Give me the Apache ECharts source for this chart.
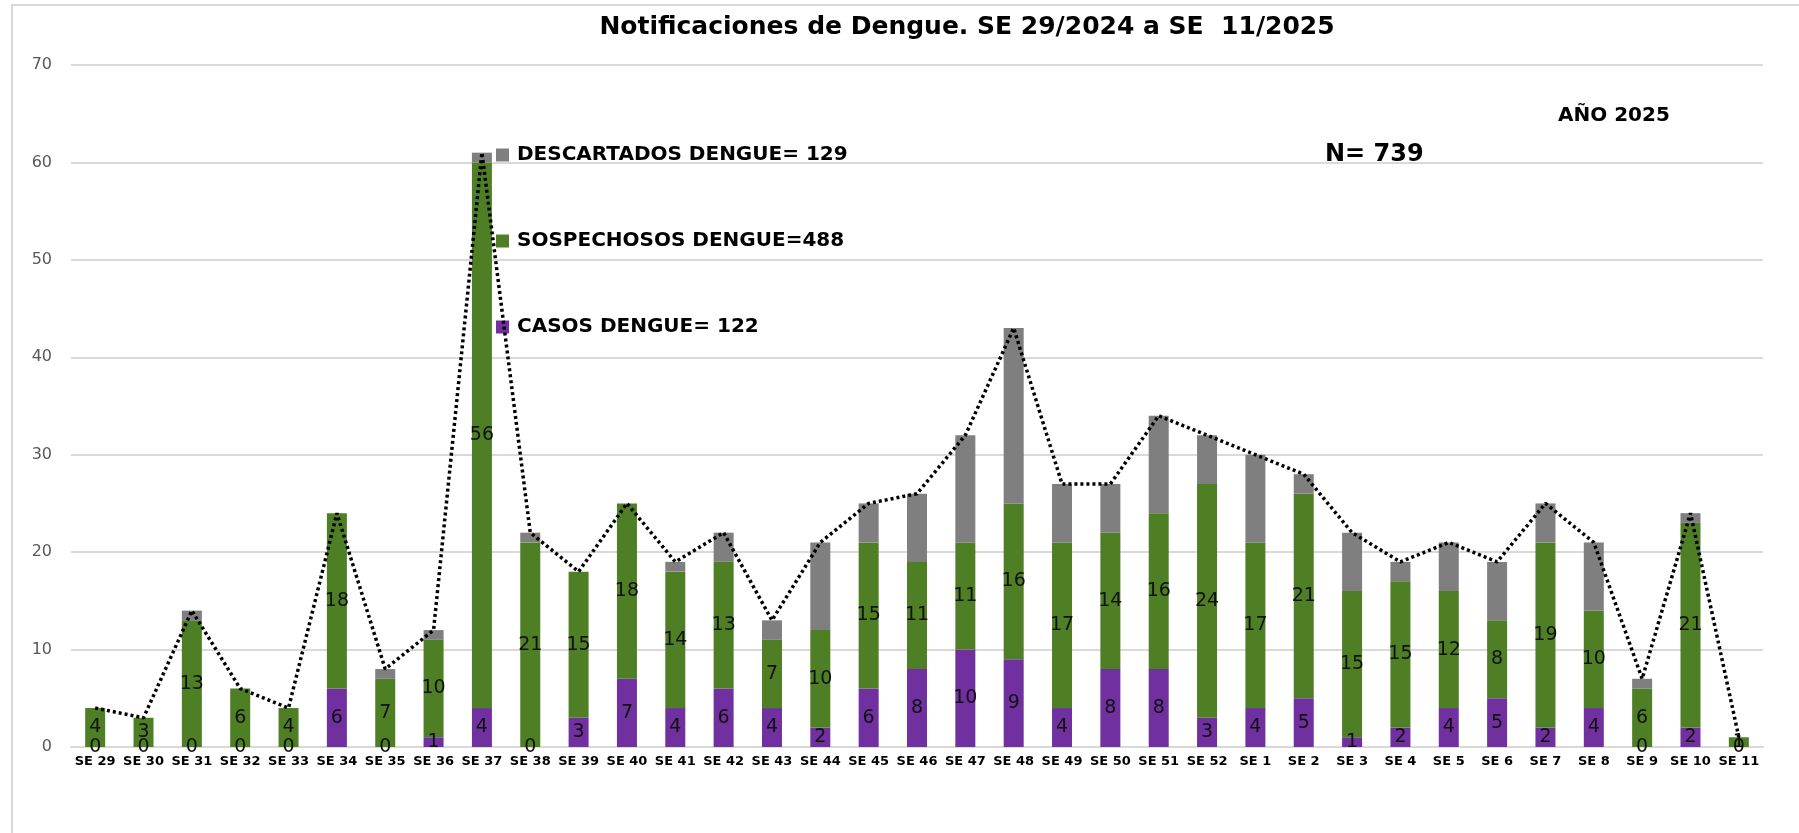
<!DOCTYPE html>
<html>
<head>
<meta charset="utf-8">
<title>Notificaciones de Dengue</title>
<script src="https://cdn.jsdelivr.net/npm/echarts@6/dist/echarts.min.js"></script>
<style>
  html, body { margin: 0; padding: 0; background: #fff; }
  #chart { width: 1799px; height: 833px; }
</style>
</head>
<body>
<div id="chart"></div>
<script>
// semanas epidemiologicas
var semanas = ['SE 29', 'SE 30', 'SE 31', 'SE 32', 'SE 33', 'SE 34', 'SE 35', 'SE 36', 'SE 37', 'SE 38',
  'SE 39', 'SE 40', 'SE 41', 'SE 42', 'SE 43', 'SE 44', 'SE 45', 'SE 46', 'SE 47', 'SE 48', 'SE 49',
  'SE 50', 'SE 51', 'SE 52', 'SE 1', 'SE 2', 'SE 3', 'SE 4', 'SE 5', 'SE 6', 'SE 7', 'SE 8', 'SE 9',
  'SE 10', 'SE 11'];

// casos confirmados (violeta)
var casos = [0, 0, 0, 0, 0, 6, 0, 1, 4, 0, 3, 7, 4, 6, 4, 2, 6, 8, 10, 9, 4, 8, 8, 3, 4, 5, 1, 2, 4, 5, 2, 4, 0, 2, 0];
// sospechosos (verde)
var sospechosos = [4, 3, 13, 6, 4, 18, 7, 10, 56, 21, 15, 18, 14, 13, 7, 10, 15, 11, 11, 16, 17, 14, 16, 24, 17, 21, 15, 15, 12, 8, 19, 10, 6, 21, 1];
// descartados (gris)
var descartados = [0, 0, 1, 0, 0, 0, 1, 1, 1, 1, 0, 0, 1, 3, 2, 9, 4, 7, 11, 18, 6, 5, 10, 5, 9, 2, 6, 2, 5, 6, 4, 7, 1, 1, 0];
// total por semana (linea punteada)
var totales = [4, 3, 14, 6, 4, 24, 8, 12, 61, 22, 18, 25, 19, 22, 13, 21, 25, 26, 32, 43, 27, 27, 34, 32, 30, 28, 22, 19, 21, 19, 25, 21, 7, 24, 1];

var nombres = ['CASOS DENGUE= 122', 'SOSPECHOSOS DENGUE=488', 'DESCARTADOS DENGUE= 129'];
var colores = ['#7030A0', '#4F7F25', '#7F7F7F'];

var myChart = echarts.init(document.getElementById('chart'));

var etiqueta = {
  show: true,
  position: 'inside',
  color: '#111',
  fontFamily: 'DejaVu Sans',
  fontSize: 19
};

var option = {
  animation: false,
  backgroundColor: '#fff',
  title: {
    text: 'Notificaciones de Dengue. SE 29/2024 a SE  11/2025',
    left: 962,
    top: 10,
    textAlign: 'center',
    textStyle: {
      fontFamily: 'DejaVu Sans',
      fontWeight: 'bold',
      fontSize: 25,
      color: '#000'
    }
  },
  legend: {
    data: [nombres[2], nombres[1], nombres[0]],
    orient: 'vertical',
    left: 491,
    top: 140,
    icon: 'rect',
    itemWidth: 13,
    itemHeight: 13,
    itemGap: 66,
    selectedMode: false,
    textStyle: {
      fontFamily: 'DejaVu Sans',
      fontWeight: 'bold',
      fontSize: 20,
      lineHeight: 20,
      color: '#000',
      padding: [0, 0, 0, 3]
    }
  },
  graphic: [{
    type: 'rect',
    shape: { x: 12, y: 5, width: 1820, height: 900 },
    style: { fill: null, stroke: '#d9d9d9', lineWidth: 2 },
    silent: true
  }, {
    type: 'text',
    left: 1325,
    top: 143,
    style: { text: 'N= 739', fontFamily: 'DejaVu Sans', fontWeight: 'bold', fontSize: 24, fill: '#000' }
  }, {
    type: 'text',
    left: 1558,
    top: 106,
    style: { text: 'AÑO 2025', fontFamily: 'DejaVu Sans', fontWeight: 'bold', fontSize: 20, fill: '#000' }
  }],
  grid: {
    left: 71,
    right: 36,
    top: 65,
    bottom: 86
  },
  xAxis: {
    type: 'category',
    data: semanas,
    axisLine: { lineStyle: { color: '#d9d9d9', width: 2 } },
    axisTick: { show: false },
    axisLabel: {
      interval: 0,
      margin: 8,
      color: '#000',
      fontFamily: 'DejaVu Sans',
      fontWeight: 'bold',
      fontSize: 13
    }
  },
  yAxis: {
    type: 'value',
    min: 0,
    max: 70,
    interval: 10,
    axisLine: { show: false },
    axisTick: { show: false },
    splitLine: { lineStyle: { color: '#d9d9d9', width: 2 } },
    axisLabel: {
      margin: 19,
      color: '#595959',
      fontFamily: 'DejaVu Sans',
      fontSize: 16
    }
  },
  series: [{
    name: nombres[0],
    type: 'bar',
    stack: 'dengue',
    barWidth: 20,
    itemStyle: { color: colores[0] },
    label: etiqueta,
    data: casos
  }, {
    name: nombres[1],
    type: 'bar',
    stack: 'dengue',
    barWidth: 20,
    itemStyle: { color: colores[1] },
    label: etiqueta,
    data: sospechosos
  }, {
    name: nombres[2],
    type: 'bar',
    stack: 'dengue',
    barWidth: 20,
    itemStyle: { color: colores[2] },
    data: descartados
  }, {
    name: 'TOTAL',
    type: 'line',
    z: 5,
    symbol: 'none',
    lineStyle: { color: '#000', width: 3.5, type: [3, 3] },
    data: totales
  }]
};

myChart.setOption(option);
</script>
</body>
</html>
